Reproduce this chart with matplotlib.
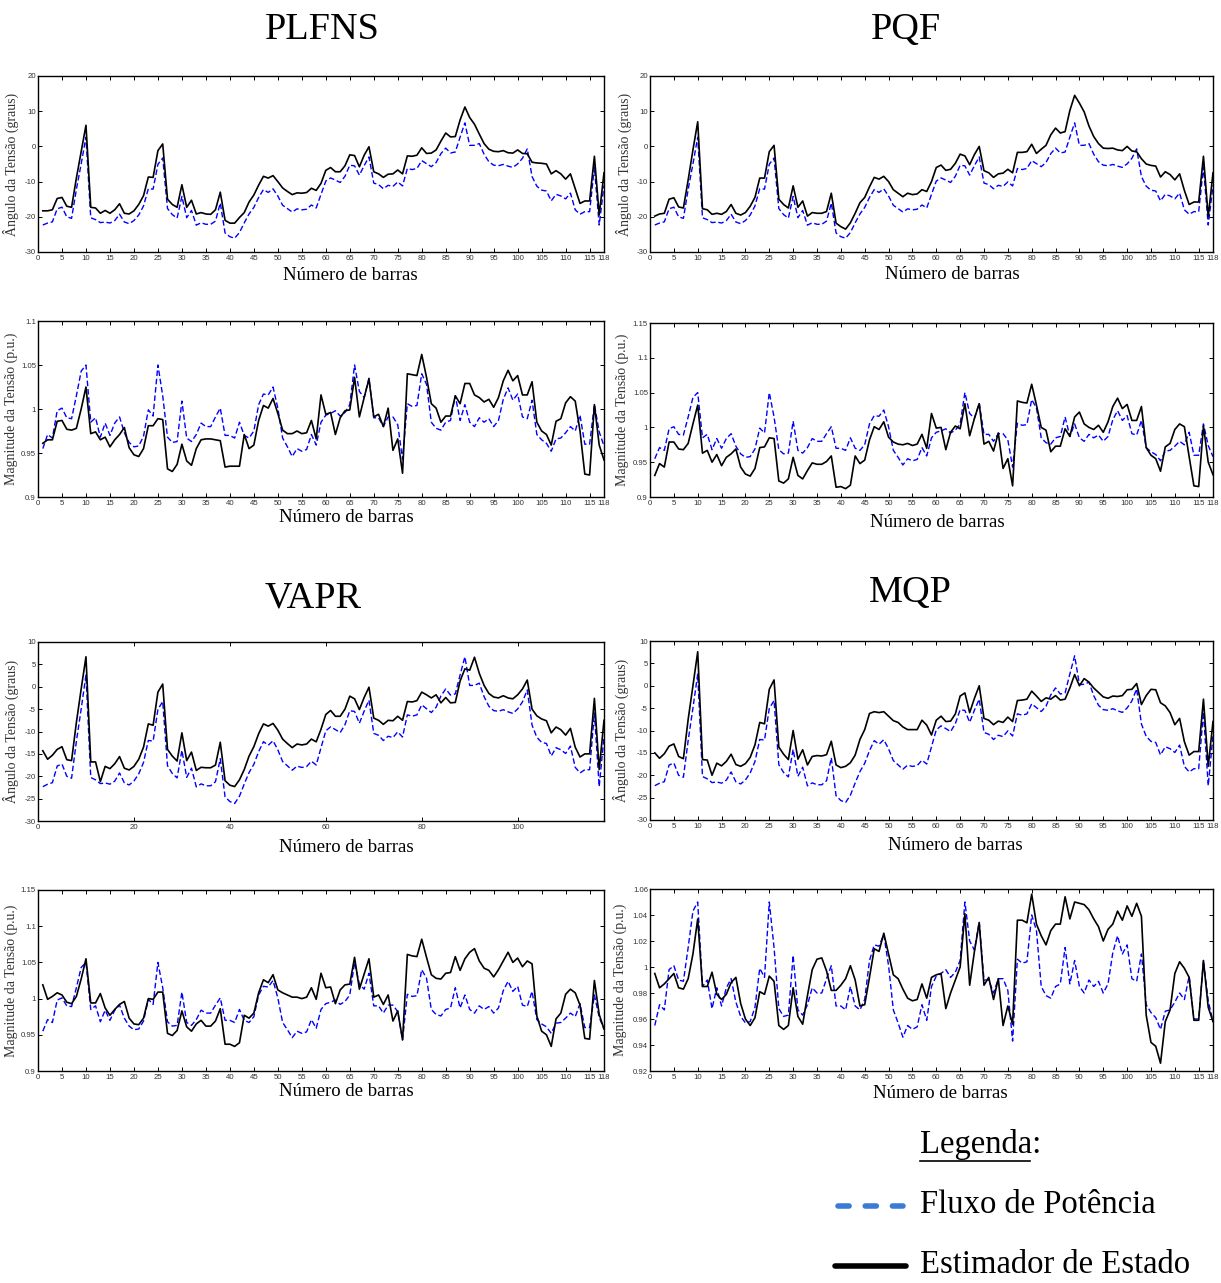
import numpy as np
import matplotlib
matplotlib.use("Agg")
import matplotlib.pyplot as plt
from matplotlib.lines import Line2D
from matplotlib.ticker import FixedLocator

# ---------------- data ----------------
bus = list(range(1, 119))

pf_ang = [-22.33,-21.78,-21.44,-17.72,-17.27,-20.01,-20.44,-12.23,-4.98,2.61,
          -20.28,-20.80,-21.65,-21.50,-21.77,-21.09,-19.26,-21.47,-21.95,-21.07,
          -19.48,-16.92,-12.00,-12.14,-5.07,-3.29,-17.65,-19.38,-20.37,-14.21,
          -20.25,-18.20,-22.37,-21.70,-22.13,-22.13,-21.23,-16.09,-24.59,-25.65,
          -26.08,-24.47,-21.72,-19.18,-17.33,-14.51,-12.27,-13.07,-12.06,-14.10,
          -16.72,-17.68,-18.65,-17.74,-18.03,-17.84,-16.64,-17.49,-13.63,-9.85,
          -8.96,-9.57,-10.25,-8.48,-5.35,-5.52,-8.16,-5.45,-3.00,-10.42,
          -10.85,-12.02,-11.06,-11.36,-10.09,-11.23,-6.28,-6.58,-6.28,-4.04,
          -4.90,-5.76,-4.58,-2.05,-0.49,-1.86,-1.60,2.64,6.69,0.29,
          0.31,0.80,-2.21,-4.36,-5.33,-5.49,-5.12,-5.60,-5.96,-4.97,
          -3.39,-0.70,-8.56,-11.31,-12.43,-12.68,-15.47,-13.62,-14.07,-14.91,
          -13.26,-18.01,-19.26,-18.54,-18.54,-5.88,-22.33,-11.08]

pf_mag = [0.955,0.971,0.967,0.998,1.001,0.990,0.989,1.015,1.043,1.050,
          0.985,0.990,0.968,0.984,0.970,0.984,0.991,0.973,0.962,0.957,
          0.958,0.969,0.999,0.992,1.050,1.015,0.968,0.962,0.963,1.009,
          0.967,0.963,0.971,0.984,0.980,0.980,0.991,1.001,0.970,0.970,
          0.967,0.985,0.970,0.967,0.975,1.005,1.017,1.016,1.025,1.001,
          0.967,0.957,0.946,0.955,0.952,0.954,0.971,0.959,0.985,0.993,
          0.995,0.998,0.992,0.996,1.005,1.050,1.020,1.013,1.035,0.990,
          0.990,0.980,0.991,0.991,0.982,0.943,1.006,1.003,1.004,1.040,
          1.028,0.985,0.978,0.976,0.985,0.987,1.015,0.987,1.005,0.985,
          0.980,0.990,0.985,0.989,0.980,0.987,1.011,1.024,1.010,1.017,
          0.991,0.989,1.010,0.971,0.965,0.961,0.952,0.966,0.967,0.973,
          0.980,0.975,0.993,0.960,0.960,1.005,0.974,0.958]

plfns_ang = [-18.3,-18.3,-18.0,-14.8,-14.5,-17.0,-17.3,-9.0,-1.5,6.0,
             -17.3,-17.5,-19.0,-18.2,-19.0,-18.0,-16.3,-19.0,-19.2,-18.3,
             -16.5,-14.0,-8.7,-8.8,-1.2,0.7,-15.0,-16.5,-17.3,-10.9,
             -17.3,-15.3,-19.2,-18.8,-19.2,-19.3,-18.0,-13.0,-21.0,-21.8,
             -21.8,-20.2,-18.8,-15.8,-13.8,-11.0,-8.5,-9.0,-8.3,-10.0,
             -11.8,-12.8,-13.7,-13.2,-13.3,-13.1,-11.9,-12.5,-10.5,-6.8,
             -6.0,-7.2,-7.2,-5.5,-2.4,-2.6,-5.8,-2.5,-0.1,-7.2,
             -7.8,-8.8,-7.9,-7.8,-6.7,-7.8,-2.7,-2.8,-2.5,-0.4,
             -2.0,-1.9,-1.0,1.5,3.8,2.7,2.8,7.5,11.2,8.2,
             6.3,3.5,0.8,-0.8,-1.4,-1.5,-1.2,-1.8,-1.9,-1.0,
             -2.0,-2.1,-4.5,-4.7,-4.8,-5.0,-7.8,-6.9,-7.8,-9.3,
             -7.8,-12.0,-16.2,-15.5,-15.5,-2.8,-19.5,-7.5]

pqf_ang = [-19.8,-19.2,-19.0,-15.0,-14.6,-17.2,-17.5,-9.5,-1.0,7.0,
           -17.7,-18.0,-19.3,-19.0,-19.3,-18.5,-16.5,-19.0,-19.5,-18.8,
           -17.0,-14.5,-9.0,-9.0,-1.5,0.3,-15.0,-16.5,-17.5,-11.2,
           -17.3,-15.5,-19.8,-18.8,-19.0,-19.0,-18.5,-13.3,-21.8,-22.8,
           -23.5,-21.7,-19.0,-16.0,-14.5,-11.5,-8.8,-9.3,-8.5,-10.0,
           -12.3,-13.3,-14.3,-13.3,-13.7,-13.5,-12.3,-12.8,-10.0,-6.0,
           -5.3,-6.8,-6.5,-4.8,-2.2,-2.7,-5.2,-2.3,0.0,-6.9,
           -7.5,-8.8,-7.8,-7.6,-6.5,-7.5,-1.7,-1.7,-1.5,0.6,
           -2.0,-0.8,0.3,3.3,5.2,3.8,4.2,10.2,14.5,12.3,
           9.8,5.8,2.8,0.8,-0.5,-0.6,-0.5,-1.0,-1.2,0.0,
           -1.3,-1.5,-3.5,-5.0,-5.4,-5.6,-8.7,-7.2,-8.0,-9.5,
           -7.8,-12.5,-16.5,-15.8,-15.8,-2.8,-20.0,-7.5]

vapr_ang = [-14.3,-16.2,-15.3,-14.0,-13.4,-16.3,-16.5,-8.0,-0.5,6.7,
            -16.8,-16.8,-21.2,-17.8,-18.3,-17.2,-15.6,-18.2,-18.6,-17.8,
            -16.2,-13.5,-8.3,-8.6,-1.2,0.6,-14.0,-15.5,-16.6,-10.3,
            -16.5,-14.6,-18.7,-18.0,-18.1,-18.1,-17.5,-12.4,-21.0,-22.0,
            -22.3,-20.8,-18.5,-15.5,-13.4,-10.5,-8.3,-8.8,-8.2,-9.7,
            -11.7,-12.7,-13.6,-12.8,-13.0,-12.8,-11.7,-12.3,-9.5,-6.2,
            -5.3,-6.6,-6.6,-5.0,-2.1,-2.7,-5.1,-2.4,-0.1,-7.0,
            -7.5,-8.4,-7.5,-7.6,-6.6,-7.5,-3.3,-3.4,-3.1,-1.2,
            -1.8,-2.5,-1.8,-3.6,-2.4,-3.6,-3.5,1.3,4.0,3.7,
            6.6,3.0,0.3,-1.5,-2.3,-2.5,-2.0,-2.5,-2.7,-1.8,
            -0.5,1.5,-5.0,-6.5,-7.2,-7.6,-10.3,-9.0,-9.6,-10.8,
            -9.3,-13.5,-15.7,-15.0,-15.0,-2.6,-18.5,-7.5]

mqp_ang = [-15.0,-16.2,-15.2,-13.5,-13.0,-15.8,-16.3,-7.5,0.0,7.6,
           -16.5,-16.6,-20.0,-17.3,-17.9,-16.9,-15.3,-17.6,-18.0,-17.4,
           -16.0,-13.2,-8.2,-8.5,-0.8,1.3,-13.7,-15.3,-16.5,-10.0,
           -16.4,-14.3,-17.7,-15.8,-15.6,-15.7,-15.4,-12.4,-17.7,-18.3,
           -18.0,-17.2,-15.5,-12.0,-9.8,-6.2,-5.8,-6.0,-5.8,-6.8,
           -7.8,-8.2,-9.2,-9.8,-9.8,-9.8,-7.7,-8.8,-11.0,-7.7,
           -6.8,-8.0,-7.9,-6.3,-2.3,-1.6,-6.0,-2.8,0.0,-7.3,
           -7.7,-8.7,-7.9,-8.2,-7.0,-8.0,-3.3,-3.2,-3.0,-1.2,
           -2.3,-3.5,-2.7,-3.0,-2.2,-3.2,-3.0,-0.5,2.5,0.0,
           1.6,0.8,-0.5,-1.5,-2.5,-2.8,-2.3,-2.4,-2.2,-0.9,
           -0.8,0.5,-4.2,-2.2,-0.8,-0.9,-3.8,-4.5,-6.0,-8.7,
           -7.3,-12.5,-15.5,-14.7,-14.7,-3.0,-18.0,-8.0]

plfns_mag = [0.961,0.965,0.965,0.986,0.987,0.977,0.976,0.978,1.000,1.025,
             0.972,0.974,0.965,0.968,0.957,0.965,0.971,0.979,0.956,0.948,
             0.946,0.955,0.981,0.981,0.989,0.988,0.932,0.929,0.937,0.960,
             0.941,0.936,0.955,0.965,0.966,0.966,0.965,0.964,0.934,0.935,
             0.935,0.935,0.971,0.955,0.959,0.987,1.004,1.001,1.012,0.995,
             0.976,0.972,0.972,0.975,0.972,0.973,0.987,0.966,1.016,0.994,
             0.996,0.971,0.990,0.998,0.999,1.036,0.991,1.013,1.034,0.991,
             0.994,0.980,1.001,0.953,0.966,0.927,1.040,1.039,1.038,1.062,
             1.036,1.006,1.001,0.985,0.992,0.992,1.015,1.006,1.029,1.029,
             1.016,1.013,1.008,1.011,1.002,1.013,1.032,1.044,1.032,1.038,
             1.016,1.016,1.031,0.985,0.975,0.971,0.959,0.986,0.989,1.007,
             1.014,1.009,0.975,0.926,0.925,1.005,0.959,0.942]

pqf_mag = [0.931,0.948,0.943,0.979,0.979,0.969,0.968,0.977,1.005,1.032,
           0.963,0.967,0.950,0.961,0.945,0.957,0.962,0.969,0.943,0.933,
           0.930,0.941,0.971,0.972,0.985,0.984,0.923,0.920,0.926,0.957,
           0.931,0.926,0.938,0.949,0.947,0.947,0.951,0.959,0.914,0.915,
           0.912,0.917,0.959,0.948,0.953,0.982,1.001,0.997,1.008,0.986,
           0.979,0.976,0.975,0.977,0.974,0.976,0.990,0.970,1.020,0.999,
           1.000,0.968,0.993,1.002,0.998,1.034,0.988,1.013,1.034,0.976,
           0.980,0.966,0.992,0.941,0.955,0.916,1.038,1.036,1.035,1.062,
           1.032,1.000,0.996,0.965,0.973,0.973,0.998,0.987,1.015,1.022,
           1.005,1.000,0.997,1.003,0.993,1.008,1.030,1.042,1.027,1.033,
           1.010,1.010,1.030,0.971,0.960,0.955,0.937,0.972,0.977,0.997,
           1.005,1.001,0.958,0.916,0.915,1.002,0.950,0.932]

vapr_mag = [1.019,0.999,1.003,1.008,1.005,0.995,0.993,1.003,1.027,1.055,
            0.994,0.994,1.007,0.987,0.977,0.985,0.992,0.996,0.973,0.965,
            0.964,0.973,1.000,0.999,1.009,1.009,0.952,0.949,0.956,0.983,
            0.961,0.955,0.965,0.970,0.962,0.962,0.969,0.986,0.937,0.937,
            0.934,0.939,0.977,0.973,0.980,1.008,1.026,1.022,1.033,1.012,
            1.008,1.005,1.002,1.002,1.000,1.002,1.015,0.999,1.035,1.015,
            1.016,0.993,1.012,1.019,1.020,1.057,1.013,1.034,1.055,1.002,
            1.005,0.992,1.005,0.969,0.983,0.943,1.061,1.059,1.058,1.082,
            1.057,1.033,1.028,1.027,1.035,1.036,1.058,1.039,1.055,1.064,
            1.069,1.052,1.042,1.039,1.030,1.040,1.052,1.064,1.050,1.056,
            1.044,1.052,1.048,0.976,0.955,0.950,0.934,0.972,0.980,1.006,
            1.013,1.008,0.991,0.945,0.944,1.025,0.978,0.958]

mqp_mag = [0.995,0.984,0.987,0.991,0.995,0.984,0.983,0.991,1.010,1.037,
           0.985,0.985,0.996,0.979,0.975,0.979,0.988,0.992,0.972,0.960,
           0.955,0.961,0.981,0.979,0.993,0.989,0.955,0.952,0.955,0.984,
           0.962,0.956,0.978,0.998,1.006,1.007,0.997,0.982,0.982,0.986,
           0.991,1.001,0.990,0.970,0.971,0.992,1.014,1.012,1.026,1.010,
           0.994,0.991,0.983,0.976,0.974,0.975,0.987,0.976,0.992,0.994,
           0.995,0.968,0.980,0.990,1.000,1.041,0.986,1.012,1.034,0.986,
           0.992,0.975,0.991,0.955,0.970,0.956,1.036,1.036,1.034,1.056,
           1.033,1.024,1.017,1.028,1.033,1.033,1.054,1.037,1.050,1.049,
           1.048,1.044,1.037,1.031,1.020,1.029,1.033,1.043,1.036,1.047,
           1.039,1.049,1.039,0.963,0.942,0.939,0.926,0.958,0.967,0.995,
           1.004,0.999,0.992,0.959,0.959,1.005,0.969,0.958]

method_titles = ["PLFNS", "PQF", "VAPR", "MQP"]
xticks_std = [0, 5, 10, 15, 20, 25, 30, 35, 40, 45, 50, 55, 60, 65, 70, 75, 80,
              85, 90, 95, 100, 105, 110, 115, 118]
xticks_20 = [0, 20, 40, 60, 80, 100]
ang_label = "Ângulo da Tensão (graus)"
mag_label = "Magnitude da Tensão (p.u.)"
x_label = "Número de barras"
legend_title = "Legenda:"
legend_pf = "Fluxo de Potência"
legend_se = "Estimador de Estado"

# ---------------- figure ----------------
W, H = 1221, 1283
fig = plt.figure(figsize=(W / 100, H / 100), dpi=100)
fig.patch.set_facecolor("white")

SERIF = ["Liberation Serif", "DejaVu Serif"]
SANS = ["Liberation Sans", "DejaVu Sans"]
BLUE = "#0000ff"
GREY = "#333333"


def ax_px(l, t, r, b):
    return fig.add_axes([l / W, 1 - b / H, (r - l) / W, (b - t) / H])


def fx(x):
    return x / W


def fy(y):
    return 1 - y / H


def gfmt(v):
    return ("%.2f" % v).rstrip("0").rstrip(".")


def style(ax, ylim, yticks, xticks):
    ax.set_xlim(0, 118)
    ax.set_ylim(*ylim)
    ax.xaxis.set_major_locator(FixedLocator(xticks))
    ax.yaxis.set_major_locator(FixedLocator(yticks))
    ax.set_xticklabels([str(t) for t in xticks])
    ax.set_yticklabels([gfmt(t) for t in yticks])
    ax.tick_params(direction="in", length=3, width=0.7, top=True, right=True,
                   labelsize=5.6, pad=2, labelcolor=GREY)
    ax.tick_params(axis="y", pad=1.5)
    for lab in ax.get_xticklabels() + ax.get_yticklabels():
        lab.set_family(SANS)
    for sp in ax.spines.values():
        sp.set_linewidth(1.0)


def panel(box, est, pf, ylim, yticks, xticks, ylab, ylab_x, xlab_pos):
    ax = ax_px(*box)
    ax.plot(bus, pf, color=BLUE, lw=1.0, ls=(0, (4, 2)))
    ax.plot(bus, est, color="black", lw=1.2)
    style(ax, ylim, yticks, xticks)
    fig.text(fx(ylab_x), fy((box[1] + box[3]) / 2), ylab, rotation=90,
             ha="center", va="center", fontsize=10, family=SERIF,
             color=GREY)
    fig.text(fx(xlab_pos[0]), fy(xlab_pos[1]), x_label, ha="center",
             va="center", fontsize=13.5, family=SERIF)
    return ax


ang_ticks10 = [-30, -20, -10, 0, 10, 20]
ang_ticks5 = [-30, -25, -20, -15, -10, -5, 0, 5, 10]

# PLFNS
panel((38, 76, 604, 252), plfns_ang, pf_ang, (-30, 20), ang_ticks10,
      xticks_std, ang_label, 11, (350, 276))
panel((38, 321, 604, 497), plfns_mag, pf_mag, (0.9, 1.1),
      [0.9, 0.95, 1.0, 1.05, 1.1], xticks_std, mag_label, 11, (346, 518))
# PQF
panel((650, 76, 1213, 252), pqf_ang, pf_ang, (-30, 20), ang_ticks10,
      xticks_std, ang_label, 624, (952, 274))
panel((650, 323, 1213, 497), pqf_mag, pf_mag, (0.9, 1.15),
      [0.9, 0.95, 1.0, 1.05, 1.1, 1.15], xticks_std, mag_label, 622, (937, 522))
# VAPR
panel((38, 642, 604, 821), vapr_ang, pf_ang, (-30, 10), ang_ticks5,
      xticks_20, ang_label, 11, (346, 847))
panel((38, 890, 604, 1071), vapr_mag, pf_mag, (0.9, 1.15),
      [0.9, 0.95, 1.0, 1.05, 1.1, 1.15], xticks_std, mag_label, 11, (346, 1091))
# MQP
panel((650, 641, 1213, 820), mqp_ang, pf_ang, (-30, 10), ang_ticks5,
      xticks_std, ang_label, 621, (955, 846))
panel((650, 889, 1213, 1071), mqp_mag, pf_mag, (0.92, 1.06),
      [0.92, 0.94, 0.96, 0.98, 1.0, 1.02, 1.04, 1.06], xticks_std, mag_label,
      620, (940, 1094))

# titles
for name, (x, y) in zip(method_titles, [(322, 30), (906, 30), (313, 598), (910, 593)]):
    fig.text(fx(x), fy(y), name, ha="center", va="center", fontsize=27.5,
             family=SERIF)

# legend
fig.text(fx(920), fy(1145), legend_title, ha="left", va="center",
         fontsize=23.5, family=SERIF)
fig.add_artist(Line2D([fx(920), fx(1030)], [fy(1161), fy(1161)], color="black",
                      lw=1.2, transform=fig.transFigure))
fig.add_artist(Line2D([fx(838), fx(903)], [fy(1206), fy(1206)], color="#3a7bd5",
                      lw=4, ls=(0, (2.0, 2.9)), dash_capstyle="round",
                      transform=fig.transFigure))
fig.text(fx(920), fy(1205), legend_pf, ha="left", va="center", fontsize=23.5,
         family=SERIF)
fig.add_artist(Line2D([fx(835), fx(906)], [fy(1266), fy(1266)], color="black",
                      lw=4, solid_capstyle="round", transform=fig.transFigure))
fig.text(fx(920), fy(1265), legend_se, ha="left", va="center", fontsize=23.5,
         family=SERIF)

fig.savefig("out.png", dpi=100)
